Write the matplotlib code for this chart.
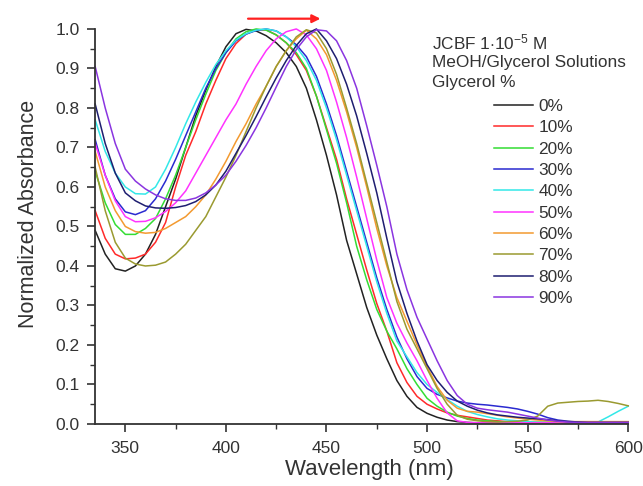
import numpy as np
import matplotlib
matplotlib.use("Agg")
import matplotlib.pyplot as plt
from matplotlib.ticker import MultipleLocator

plt.rcParams['font.family'] = ['Liberation Sans', 'DejaVu Sans']
plt.rcParams['mathtext.fontset'] = 'custom'
plt.rcParams['mathtext.rm'] = 'Liberation Sans'
plt.rcParams['mathtext.it'] = 'Liberation Sans'

wavelength = list(range(335, 601, 5))

abs_0 = [0.49, 0.43, 0.393, 0.387, 0.40, 0.43, 0.48, 0.55, 0.62, 0.70, 0.78, 0.845, 0.905, 0.955, 0.988,
         0.999, 0.995, 0.983, 0.965, 0.94, 0.905, 0.85, 0.77, 0.68, 0.58, 0.465, 0.38, 0.295, 0.225, 0.165,
         0.11, 0.07, 0.042, 0.027, 0.017, 0.01, 0.006, 0.004, 0.003, 0.003, 0.003, 0.002, 0.002, 0.002,
         0.002, 0.002, 0.002, 0.002, 0.002, 0.002, 0.002, 0.002, 0.002, 0.002]
abs_10 = [0.54, 0.47, 0.43, 0.418, 0.42, 0.43, 0.46, 0.51, 0.60, 0.68, 0.74, 0.81, 0.87, 0.925, 0.963,
          0.987, 0.998, 0.998, 0.985, 0.965, 0.935, 0.895, 0.83, 0.75, 0.67, 0.57, 0.48, 0.39, 0.305, 0.235,
          0.155, 0.105, 0.07, 0.05, 0.038, 0.028, 0.022, 0.018, 0.014, 0.01, 0.008, 0.006, 0.005, 0.004,
          0.004, 0.004, 0.004, 0.004, 0.004, 0.004, 0.004, 0.004, 0.004, 0.004]
abs_20 = [0.64, 0.56, 0.505, 0.48, 0.48, 0.495, 0.52, 0.57, 0.63, 0.70, 0.77, 0.835, 0.895, 0.94, 0.975,
          0.993, 1.0, 0.997, 0.985, 0.965, 0.94, 0.90, 0.83, 0.745, 0.66, 0.56, 0.45, 0.365, 0.29, 0.235,
          0.19, 0.14, 0.10, 0.065, 0.045, 0.03, 0.02, 0.014, 0.01, 0.008, 0.006, 0.005, 0.004, 0.004,
          0.004, 0.004, 0.004, 0.004, 0.004, 0.004, 0.004, 0.004, 0.004, 0.004]
abs_30 = [0.72, 0.63, 0.57, 0.537, 0.53, 0.54, 0.57, 0.615, 0.67, 0.73, 0.79, 0.85, 0.90, 0.94, 0.97,
          0.987, 0.996, 1.0, 0.995, 0.98, 0.96, 0.93, 0.88, 0.81, 0.73, 0.64, 0.55, 0.46, 0.37, 0.29,
          0.22, 0.165, 0.12, 0.09, 0.075, 0.066, 0.058, 0.053, 0.05, 0.048, 0.045, 0.042, 0.038, 0.032,
          0.025, 0.016, 0.01, 0.007, 0.005, 0.004, 0.004, 0.004, 0.004, 0.004]
abs_40 = [0.77, 0.69, 0.635, 0.60, 0.583, 0.582, 0.60, 0.645, 0.70, 0.76, 0.815, 0.865, 0.91, 0.945, 0.972,
          0.988, 0.997, 1.0, 0.995, 0.98, 0.955, 0.92, 0.87, 0.80, 0.72, 0.63, 0.54, 0.45, 0.36, 0.28,
          0.21, 0.17, 0.13, 0.10, 0.08, 0.062, 0.045, 0.032, 0.024, 0.018, 0.013, 0.01, 0.008, 0.006,
          0.004, 0.004, 0.004, 0.004, 0.004, 0.004, 0.005, 0.018, 0.032, 0.045]
abs_50 = [0.71, 0.63, 0.565, 0.525, 0.512, 0.513, 0.522, 0.538, 0.56, 0.59, 0.635, 0.68, 0.725, 0.77, 0.81,
          0.86, 0.905, 0.945, 0.975, 0.993, 1.0, 0.985, 0.95, 0.895, 0.815, 0.725, 0.625, 0.52, 0.415, 0.32,
          0.255, 0.205, 0.16, 0.11, 0.065, 0.028, 0.008, 0.004, 0.003, 0.003, 0.003, 0.003, 0.003, 0.003,
          0.003, 0.003, 0.003, 0.003, 0.003, 0.003, 0.003, 0.003, 0.003, 0.003]
abs_60 = [0.69, 0.60, 0.54, 0.50, 0.487, 0.483, 0.485, 0.495, 0.51, 0.525, 0.55, 0.58, 0.62, 0.665, 0.715,
          0.76, 0.81, 0.855, 0.905, 0.945, 0.975, 0.997, 0.975, 0.935, 0.87, 0.79, 0.70, 0.60, 0.495, 0.40,
          0.32, 0.26, 0.20, 0.145, 0.095, 0.06, 0.04, 0.032, 0.03, 0.026, 0.022, 0.018, 0.015, 0.012,
          0.01, 0.008, 0.006, 0.006, 0.006, 0.006, 0.006, 0.006, 0.006, 0.006]
abs_70 = [0.65, 0.54, 0.46, 0.42, 0.405, 0.40, 0.402, 0.41, 0.43, 0.455, 0.49, 0.525, 0.575, 0.625, 0.68,
          0.74, 0.80, 0.855, 0.905, 0.945, 0.98, 0.998, 0.99, 0.95, 0.885, 0.80, 0.71, 0.61, 0.51, 0.41,
          0.31, 0.24, 0.19, 0.14, 0.09, 0.05, 0.022, 0.012, 0.008, 0.006, 0.005, 0.006, 0.007, 0.01,
          0.02, 0.045, 0.053, 0.055, 0.057, 0.058, 0.06, 0.057, 0.052, 0.046]
abs_80 = [0.81, 0.71, 0.635, 0.585, 0.565, 0.552, 0.547, 0.546, 0.548, 0.553, 0.563, 0.58, 0.605, 0.64, 0.685,
          0.73, 0.778, 0.828, 0.876, 0.92, 0.958, 0.988, 1.0, 0.97, 0.925, 0.86, 0.78, 0.685, 0.585, 0.47,
          0.36, 0.28, 0.21, 0.15, 0.11, 0.08, 0.058, 0.045, 0.035, 0.028, 0.023, 0.02, 0.017, 0.015,
          0.013, 0.011, 0.008, 0.006, 0.005, 0.004, 0.004, 0.004, 0.004, 0.004]
abs_90 = [0.905, 0.80, 0.71, 0.645, 0.615, 0.595, 0.58, 0.57, 0.566, 0.566, 0.572, 0.585, 0.605, 0.63, 0.665,
          0.705, 0.75, 0.80, 0.853, 0.905, 0.948, 0.98, 0.998, 0.995, 0.97, 0.92, 0.85, 0.755, 0.655, 0.55,
          0.43, 0.34, 0.27, 0.215, 0.16, 0.11, 0.072, 0.05, 0.04, 0.036, 0.033, 0.03, 0.025, 0.02,
          0.015, 0.01, 0.007, 0.005, 0.004, 0.004, 0.004, 0.004, 0.004, 0.004]

labels = ['0%', '10%', '20%', '30%', '40%', '50%', '60%', '70%', '80%', '90%']
colors = ['#222222', '#ff2a2a', '#33dd33', '#2a2ad0', '#33e8e8', '#ff33ff',
          '#f39a30', '#9a9a30', '#1e1e70', '#8a35e0']
series = [abs_0, abs_10, abs_20, abs_30, abs_40, abs_50, abs_60, abs_70, abs_80, abs_90]

fig = plt.figure(figsize=(6.43, 4.86), dpi=100)
ax = fig.add_axes([0.148, 0.1276, 0.829, 0.8128])

handles = []
for vals, lab, col in zip(series, labels, colors):
    h, = ax.plot(wavelength, vals, color=col, lw=1.1, label=lab, clip_on=False)
    handles.append(h)

ax.set_xlim(335, 600)
ax.set_ylim(0, 1.0)
ax.xaxis.set_major_locator(MultipleLocator(50))
ax.xaxis.set_minor_locator(MultipleLocator(25))
ax.yaxis.set_major_locator(MultipleLocator(0.1))
ax.yaxis.set_minor_locator(MultipleLocator(0.05))
ax.yaxis.set_major_formatter(plt.FormatStrFormatter('%.1f'))

axis_col = '#333333'
for s in ['top', 'right']:
    ax.spines[s].set_visible(False)
for s in ['left', 'bottom']:
    ax.spines[s].set_color(axis_col)
    ax.spines[s].set_linewidth(1.3)
ax.tick_params(which='major', direction='out', length=6, width=1.2, color=axis_col,
               labelsize=12.5, labelcolor='#333333')
ax.tick_params(axis='x', which='major', pad=6)
ax.tick_params(axis='y', which='major', pad=5)
ax.tick_params(which='minor', direction='out', length=3.5, width=1.0, color=axis_col)

ax.set_xlabel('Wavelength (nm)', fontsize=16, color='#333333', va='center')
ax.set_ylabel('Normalized Absorbance', fontsize=15.5, color='#333333', va='center')
ax.xaxis.set_label_coords(0.515, -0.116)
ax.yaxis.set_label_coords(-0.126, 0.532)

# red arrow indicating peak shift
ax.annotate('', xy=(447, 1.026), xytext=(411, 1.026), xycoords='data',
            arrowprops=dict(arrowstyle='-|>', color='#ff2020', lw=1.6,
                            mutation_scale=12, shrinkA=0, shrinkB=0),
            annotation_clip=False)

fs_leg = 12.4
fig.text(432 / 643, 1 - 42 / 486, 'JCBF 1$\\cdot$10$^{-5}$ M', fontsize=fs_leg, color='#333333',
         va='center', ha='left')
fig.text(432 / 643, 1 - 62 / 486, 'MeOH/Glycerol Solutions', fontsize=fs_leg, color='#333333',
         va='center', ha='left')
fig.text(432 / 643, 1 - 83 / 486, 'Glycerol %', fontsize=fs_leg, color='#333333',
         va='center', ha='left')

leg = fig.legend(handles=handles, loc='upper left', bbox_to_anchor=(494 / 643, 1 - 99 / 486),
                 frameon=False, fontsize=fs_leg, handlelength=2.27, handletextpad=0.3,
                 labelspacing=0.365, borderpad=0, borderaxespad=0)
for t in leg.get_texts():
    t.set_color('#333333')

fig.savefig('out.png', dpi=100)
